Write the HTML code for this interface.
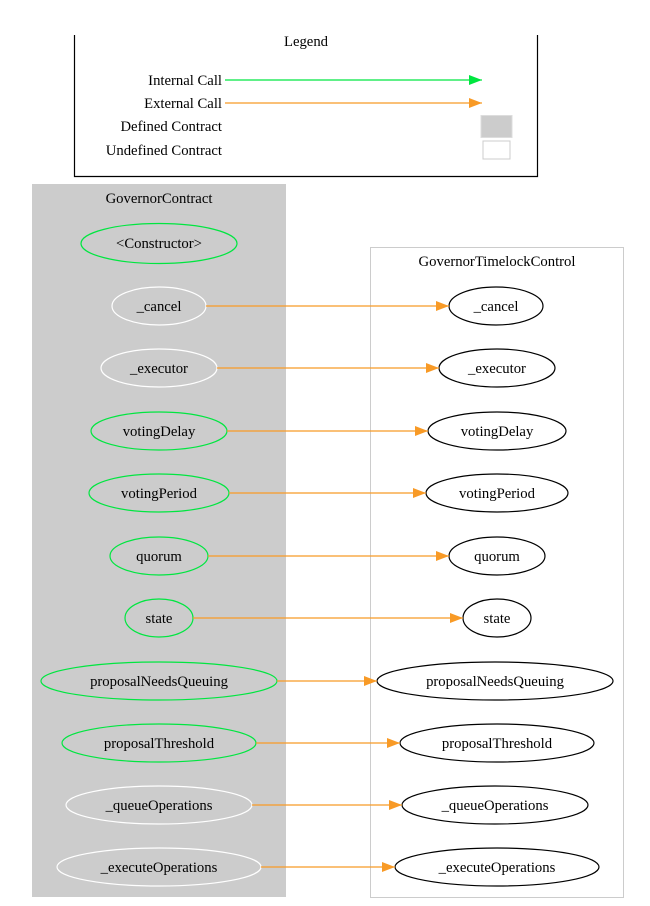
<!DOCTYPE html>
<html><head><meta charset="utf-8"><style>html,body{margin:0;padding:0;background:#fff}svg{display:block}text{font-family:"Liberation Serif",serif;font-size:14.7px;fill:#000}</style></head>
<body>
<svg width="650" height="906" viewBox="0 0 650 906" xmlns="http://www.w3.org/2000/svg">
<defs>
<marker id="ao" markerWidth="13" markerHeight="10" refX="13" refY="5" orient="auto" markerUnits="userSpaceOnUse"><path d="M0,0 L13,5 L0,10 z" fill="#f89a26"/></marker>
<marker id="ag" markerWidth="13" markerHeight="10" refX="13" refY="5" orient="auto" markerUnits="userSpaceOnUse"><path d="M0,0 L13,5 L0,10 z" fill="#00e640"/></marker>
</defs>
<path d="M74.5,35 V176.5 H537.5 V35" fill="none" stroke="#000" stroke-width="1.2"/>
<text x="306" y="46" text-anchor="middle">Legend</text>
<text x="222" y="85" text-anchor="end">Internal Call</text>
<text x="222" y="108" text-anchor="end">External Call</text>
<text x="222" y="131" text-anchor="end">Defined Contract</text>
<text x="222" y="155" text-anchor="end">Undefined Contract</text>
<line x1="225" y1="80" x2="482" y2="80" stroke="#00e640" stroke-width="1.2" marker-end="url(#ag)"/>
<line x1="225" y1="103" x2="482" y2="103" stroke="#f89a26" stroke-width="1.2" marker-end="url(#ao)"/>
<rect x="481" y="115.5" width="31" height="22" fill="#ccc" stroke="#ddd"/>
<rect x="483" y="141" width="27" height="18" fill="#fff" stroke="#ccc"/>
<rect x="32" y="184" width="254" height="713" fill="#ccc"/>
<text x="159" y="203" text-anchor="middle">GovernorContract</text>
<rect x="370.5" y="247.5" width="253" height="650" fill="none" stroke="#ccc"/>
<text x="497" y="266" text-anchor="middle">GovernorTimelockControl</text>
<ellipse cx="159" cy="243.5" rx="78" ry="20" fill="none" stroke="#00e640" stroke-width="1.2"/>
<text x="159" y="248" text-anchor="middle">&lt;Constructor&gt;</text>
<g fill="none" stroke-width="1.2">
<ellipse cx="159" cy="306" rx="47" ry="19" stroke="#fff"/>
<ellipse cx="159" cy="368" rx="58" ry="19" stroke="#fff"/>
<ellipse cx="159" cy="431" rx="68" ry="19" stroke="#00e640"/>
<ellipse cx="159" cy="493" rx="70" ry="19" stroke="#00e640"/>
<ellipse cx="159" cy="556" rx="49" ry="19" stroke="#00e640"/>
<ellipse cx="159" cy="618" rx="34" ry="19" stroke="#00e640"/>
<ellipse cx="159" cy="681" rx="118" ry="19" stroke="#00e640"/>
<ellipse cx="159" cy="743" rx="97" ry="19" stroke="#00e640"/>
<ellipse cx="159" cy="805" rx="93" ry="19" stroke="#fff"/>
<ellipse cx="159" cy="867" rx="102" ry="19" stroke="#fff"/>
<g stroke="#000">
<ellipse cx="496" cy="306" rx="47" ry="19"/>
<ellipse cx="497" cy="368" rx="58" ry="19"/>
<ellipse cx="497" cy="431" rx="69" ry="19"/>
<ellipse cx="497" cy="493" rx="71" ry="19"/>
<ellipse cx="497" cy="556" rx="48" ry="19"/>
<ellipse cx="497" cy="618" rx="34" ry="19"/>
<ellipse cx="495" cy="681" rx="118" ry="19"/>
<ellipse cx="497" cy="743" rx="97" ry="19"/>
<ellipse cx="495" cy="805" rx="93" ry="19"/>
<ellipse cx="497" cy="867" rx="102" ry="19"/>
</g>
<g stroke="#f89a26">
<line x1="206" y1="306" x2="449" y2="306" marker-end="url(#ao)"/>
<line x1="217" y1="368" x2="439" y2="368" marker-end="url(#ao)"/>
<line x1="227" y1="431" x2="428" y2="431" marker-end="url(#ao)"/>
<line x1="229" y1="493" x2="426" y2="493" marker-end="url(#ao)"/>
<line x1="208" y1="556" x2="449" y2="556" marker-end="url(#ao)"/>
<line x1="193" y1="618" x2="463" y2="618" marker-end="url(#ao)"/>
<line x1="277" y1="681" x2="377" y2="681" marker-end="url(#ao)"/>
<line x1="256" y1="743" x2="400" y2="743" marker-end="url(#ao)"/>
<line x1="252" y1="805" x2="402" y2="805" marker-end="url(#ao)"/>
<line x1="261" y1="867" x2="395" y2="867" marker-end="url(#ao)"/>
</g>
</g>
<g text-anchor="middle">
<text x="159" y="311">_cancel</text>
<text x="159" y="373">_executor</text>
<text x="159" y="436">votingDelay</text>
<text x="159" y="498">votingPeriod</text>
<text x="159" y="561">quorum</text>
<text x="159" y="623">state</text>
<text x="159" y="686">proposalNeedsQueuing</text>
<text x="159" y="748">proposalThreshold</text>
<text x="159" y="810">_queueOperations</text>
<text x="159" y="872">_executeOperations</text>
<text x="496" y="311">_cancel</text>
<text x="497" y="373">_executor</text>
<text x="497" y="436">votingDelay</text>
<text x="497" y="498">votingPeriod</text>
<text x="497" y="561">quorum</text>
<text x="497" y="623">state</text>
<text x="495" y="686">proposalNeedsQueuing</text>
<text x="497" y="748">proposalThreshold</text>
<text x="495" y="810">_queueOperations</text>
<text x="497" y="872">_executeOperations</text>
</g>
</svg>
</body></html>
